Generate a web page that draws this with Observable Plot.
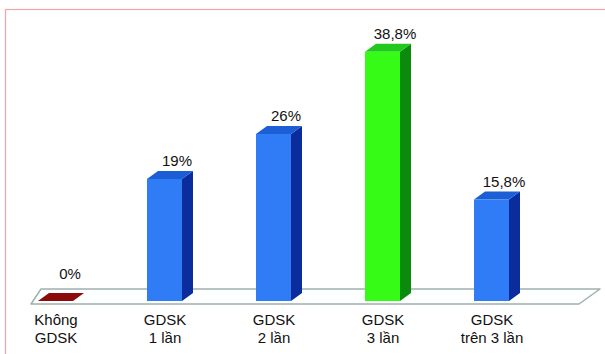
<!DOCTYPE html>
<html><head><meta charset="utf-8">
<script src="https://cdn.jsdelivr.net/npm/d3@7"></script>
<script src="https://cdn.jsdelivr.net/npm/@observablehq/plot@0.6"></script>
<style>body{margin:0;background:#fff} svg{display:block}</style>
</head><body><div id="chart"></div>
<script>
const categories = ["Không\nGDSK", "GDSK\n1 lần", "GDSK\n2 lần", "GDSK\n3 lần", "GDSK\ntrên 3 lần"];
const values = [0, 19, 26, 38.8, 15.8];
const valueLabels = ["0%", "19%", "26%", "38,8%", "15,8%"];

const data = categories.map((cat, i) => ({cat, value: values[i], label: valueLabels[i]}));

// styles (kept separate from data)
const RED = {front: "#8b0b0b", side: "#5c0000", top: "#8b0b0b"};
const BLUE = {front: "#2f7cf6", side: "#0a2c9c", top: "#1c5ed6"};
const GREEN = {front: "#35fb17", side: "#0b8a0b", top: "#21c81d"};
const faces = [RED, BLUE, BLUE, GREEN, BLUE];
const DX = 11, DY = 8;

function border() {
  const g = d3.create("svg:g");
  g.append("rect").attr("x", 5.5).attr("y", 9.5).attr("width", 640).attr("height", 400)
    .attr("fill", "none").attr("stroke", "#f0a5a5").attr("stroke-width", 1.2);
  return g.node();
}

function floor(index, scales) {
  const {x, y} = scales;
  const [r0, r1] = x.range();
  const yf = y(0) + 3, yk = y(0) - 12;
  const g = d3.create("svg:g");
  g.append("path")
    .attr("d", `M${r0},${yf}L${r0 + 10},${yk}L${r1 + 21},${yk}L${r1},${yf}Z`)
    .attr("fill", "#fdfefe").attr("stroke", "#9eb0ae").attr("stroke-width", 1.5)
    .attr("stroke-linejoin", "round");
  return g.node();
}

function bars3d(index, scales) {
  const {x, y} = scales;
  const bw = x.bandwidth();
  const g = d3.create("svg:g");
  data.forEach((d, i) => {
    const c = faces[i];
    const x0 = x(d.cat), x1 = x0 + bw, yb = y(0), yt = y(d.value);
    g.append("path")
      .attr("d", `M${x1},${yt}L${x1 + DX},${yt - DY}L${x1 + DX},${yb - DY}L${x1},${yb}Z`)
      .attr("fill", c.side);
    g.append("path")
      .attr("d", `M${x0},${yt}L${x0 + DX},${yt - DY}L${x1 + DX},${yt - DY}L${x1},${yt}Z`)
      .attr("fill", c.top);
    if (d.value > 0) {
      g.append("rect").attr("x", x0).attr("y", yt).attr("width", bw).attr("height", yb - yt)
        .attr("fill", c.front);
    }
  });
  return g.node();
}

const chart = Plot.plot({
  width: 605,
  height: 354,
  margin: 0,
  style: {background: "#fff", fontFamily: "'Liberation Sans', Arial, sans-serif"},
  x: {type: "band", domain: categories, range: [31, 579], paddingInner: 0.68, paddingOuter: 0.331, align: 0.09, axis: null},
  y: {domain: [0, 40], range: [301, 44], axis: null},
  marks: [
    border,
    floor,
    bars3d,
    Plot.text(data.filter(d => d.value > 0), {x: "cat", y: "value", text: "label", dx: 12, dy: -18, fontSize: 15, fill: "#111"}),
    Plot.text(data.filter(d => d.value === 0), {x: "cat", y: "value", text: "label", dx: 14, dy: -27, fontSize: 15, fill: "#111"}),
    Plot.text(data, {x: "cat", y: 0, text: "cat", dy: 11, lineAnchor: "top", lineHeight: 1.17, fontSize: 15, fill: "#111"})
  ]
});
document.getElementById("chart").append(chart);
</script>
</body></html>
